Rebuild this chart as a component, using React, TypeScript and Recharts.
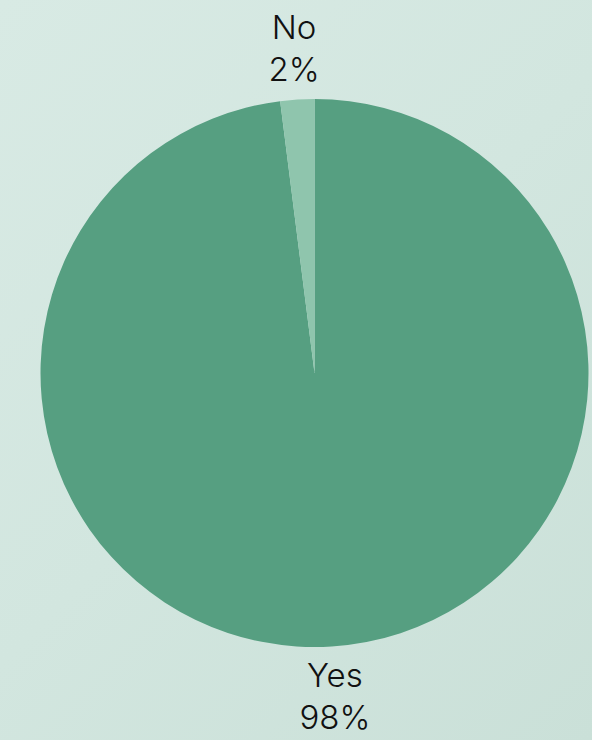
import { PieChart, Pie, Cell } from 'recharts'

const answers = ['Yes', 'No']
const shares = [98, 2]
const sliceColors = ['#569f81', '#8fc5ad']

const RADIAN = Math.PI / 180

const chartData = answers.map((name, i) => ({ name, value: shares[i] }))

function SliceLabel(props: any) {
  const { cx, cy, midAngle, outerRadius, name, value } = props
  // place the two-line label a fixed gap outside the rim
  const r = outerRadius + 51
  const x = cx + r * Math.cos(-midAngle * RADIAN)
  const y = cy + r * Math.sin(-midAngle * RADIAN)
  return (
    <text
      x={x}
      y={y}
      fill="#111"
      textAnchor="middle"
      fontFamily="Inter, sans-serif"
      fontWeight={300}
      fontSize={33}
    >
      <tspan x={x} y={y - 22} dominantBaseline="central">
        {name}
      </tspan>
      <tspan x={x} y={y + 20} dominantBaseline="central">
        {`${value}%`}
      </tspan>
    </text>
  )
}

export default function App() {
  return (
    <div
      style={{
        position: 'fixed',
        top: 0,
        left: 0,
        width: 592,
        height: 740,
        background: 'linear-gradient(135deg, #d8eae4 0%, #d2e6df 50%, #cae0d8 100%)',
      }}
    >
      <PieChart width={592} height={740} margin={{ top: 0, right: 0, bottom: 0, left: 0 }}>
        <Pie
          data={chartData}
          dataKey="value"
          nameKey="name"
          cx={314.5}
          cy={373}
          outerRadius={274}
          startAngle={90}
          endAngle={-270}
          stroke="none"
          label={SliceLabel}
          labelLine={false}
          isAnimationActive={false}
        >
          {chartData.map((d, i) => (
            <Cell key={d.name} fill={sliceColors[i]} />
          ))}
        </Pie>
      </PieChart>
    </div>
  )
}
